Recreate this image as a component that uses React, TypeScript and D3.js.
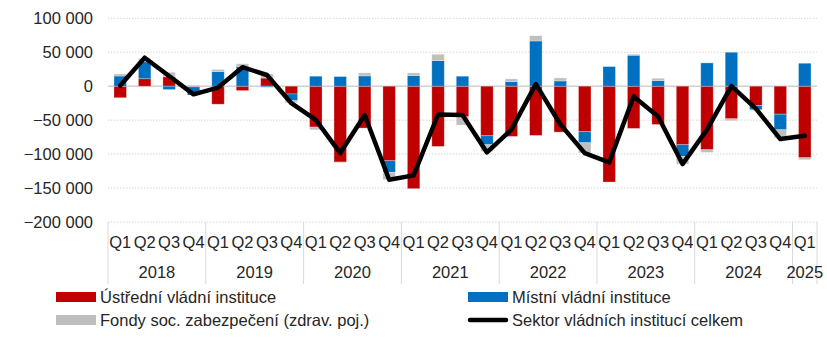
import React from "react";
import * as d3 from "d3";

const years = ["2018", "2019", "2020", "2021", "2022", "2023", "2024", "2025"];
const quarters = ["Q1", "Q2", "Q3", "Q4"];
const categories: string[] = [];
years.forEach((y) => quarters.forEach((q) => { if (!(y === "2025" && q !== "Q1")) categories.push(`${q} ${y}`); }));

const central = [-17000, 11000, 14000, -1000, -26500, -6500, 12000, -11500, -60300, -111700, -61700, -109800, -150900, -88700, -45100, -73000, -74000, -72500, -67600, -67100, -141100, -62200, -56400, -86200, -93600, -48000, -28400, -41200, -105400];
const local = [15000, 25000, -5000, -12000, 21600, 29000, -1500, -9800, 14700, 14200, 15200, -17000, 15700, 37700, 14700, -13200, 6900, 66600, 7800, -16200, 28900, 45600, 8300, -17200, 34300, 50000, -6400, -23000, 33800];
const social = [3000, 4900, 6500, 1500, 3000, 4000, 6000, -3000, -3900, -1000, 4400, -10800, 3900, 9300, -12200, -9800, 3900, 7800, 4400, -15200, 0, 1500, 3400, -11300, -3900, -2900, -1000, -12200, -2900];
const total = [1000, 42000, 15000, -12000, -2000, 28000, 16500, -25000, -49500, -98500, -42500, -137700, -131300, -41700, -42300, -97500, -64000, 3000, -56000, -98500, -112200, -15200, -44700, -114700, -64000, 0, -33000, -77900, -73000];
const yTicks = [100000, 50000, 0, -50000, -100000, -150000, -200000];

const seriesNames = ["Ústřední vládní instituce", "Místní vládní instituce", "Fondy soc. zabezpečení (zdrav. poj.)", "Sektor vládních institucí celkem"];
const colors = ["#C00000", "#0070C0", "#BFBFBF", "#000000"];

const W = 827, H = 338;
const left = 108, right = 817, top = 18.3, bottom = 222;
const font = "'Liberation Sans', Arial, sans-serif";
const fs = 16.5;

export default function App() {
  const x = d3.scaleBand<string>().domain(categories).range([left, right]).paddingInner(0.49).paddingOuter(0.245);
  const xc = d3.scaleBand<string>().domain(categories).range([left, right]);
  const y = d3.scaleLinear().domain([-200000, 100000]).range([bottom, top]);
  const rows = categories.map((c, i) => ({ cat: c, central: central[i], local: local[i], social: social[i] }));
  const keys = ["central", "local", "social"];
  const stacked = d3.stack<any>().keys(keys).offset(d3.stackOffsetDiverging)(rows);
  const line = d3.line<number>().x((_, i) => (xc(categories[i]) as number) + xc.bandwidth() / 2).y((d) => y(d));
  const bw = xc.bandwidth();
  const yearGroups = years.map((yr) => {
    const idx = categories.map((c, i) => (c.endsWith(yr) ? i : -1)).filter((i) => i >= 0);
    const x0 = xc(categories[idx[0]]) as number;
    const x1 = (xc(categories[idx[idx.length - 1]]) as number) + bw;
    return { yr, x0, x1 };
  });
  const seps = [left, ...yearGroups.map((g) => g.x1)];

  return (
    <svg width={W} height={H} style={{ position: "absolute", left: 0, top: 0, background: "#fff" }} fontFamily={font}>
      {yTicks.map((t) => (
        <g key={t}>
          <line x1={left} x2={right} y1={y(t)} y2={y(t)} stroke={t === 0 ? "#d0d0d0" : "#d6d6d6"} strokeWidth={t === 0 ? 1.5 : 1} strokeDasharray={t === 0 ? undefined : "1.5,1.5"} />
          <text x={93} y={y(t)} dy="0.35em" textAnchor="end" fontSize={fs} fill="#262626">{d3.format(",")(t).replace(/,/g, " ")}</text>
        </g>
      ))}
      {stacked.map((s, si) => (
        <g key={s.key} fill={colors[si]}>
          {s.map((d, i) => {
            const y0 = y(d[0]), y1 = y(d[1]);
            const h = Math.abs(y1 - y0);
            if (h < 0.01) return null;
            return <rect key={i} x={x(categories[i])} width={x.bandwidth()} y={Math.min(y0, y1)} height={h} stroke="#fff" strokeOpacity={0.35} strokeWidth={0.8} />;
          })}
        </g>
      ))}
      <path d={line(total) as string} fill="none" stroke="#000" strokeWidth={4.5} strokeLinejoin="round" strokeLinecap="round" />
      {seps.map((sx, i) => (
        <line key={i} x1={sx} x2={sx} y1={bottom} y2={284} stroke="#d9d9d9" strokeWidth={1} />
      ))}
      {categories.map((c, i) => (
        <text key={c} x={(xc(c) as number) + bw / 2} y={242} dy="0.35em" textAnchor="middle" fontSize={fs} fill="#262626">{c.split(" ")[0]}</text>
      ))}
      {yearGroups.map((g) => (
        <text key={g.yr} x={(g.x0 + g.x1) / 2} y={272} dy="0.35em" textAnchor="middle" fontSize={fs} fill="#262626">{g.yr}</text>
      ))}
      {seriesNames.map((n, i) => {
        const lx = i % 2 === 0 ? 56 : 468;
        const ly = i < 2 ? 297 : 320;
        return (
          <g key={n}>
            {i < 3 ? (
              <rect x={lx} y={ly - 5} width={40} height={10} fill={colors[i]} />
            ) : (
              <line x1={lx + 2} x2={lx + 38} y1={ly} y2={ly} stroke="#000" strokeWidth={4.5} strokeLinecap="round" />
            )}
            <text x={lx + 44} y={ly} dy="0.35em" fontSize={fs} fill="#262626">{n}</text>
          </g>
        );
      })}
    </svg>
  );
}
